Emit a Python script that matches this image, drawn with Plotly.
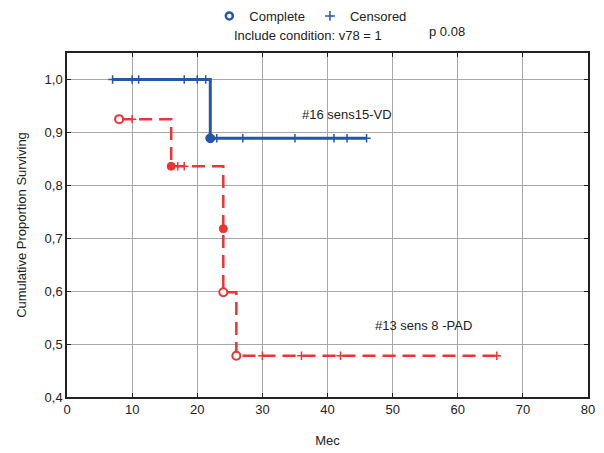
import plotly.graph_objects as go

# ---- data ----
blue_step_t = [7, 22, 46]
blue_step_s = [1.0, 0.889, 0.889]
blue_cens_t = [7, 10, 11, 18, 20, 21.3, 23, 27, 35, 41, 43, 46]
blue_cens_s = [1.0, 1.0, 1.0, 1.0, 1.0, 1.0, 0.889, 0.889, 0.889, 0.889, 0.889, 0.889]
blue_event_t = [22]
blue_event_s = [0.889]

red_step_t = [8, 16, 24, 24, 26, 66]
red_step_s = [0.925, 0.836, 0.718, 0.598, 0.478, 0.478]
red_cens_t = [10, 17, 18, 30, 36, 42, 66]
red_cens_s = [0.925, 0.836, 0.836, 0.478, 0.478, 0.478, 0.478]
red_event_filled_t = [16, 24]
red_event_filled_s = [0.836, 0.718]
red_event_open_t = [8, 24, 26]
red_event_open_s = [0.925, 0.598, 0.478]

x_ticks = [0, 10, 20, 30, 40, 50, 60, 70, 80]
y_ticks = [0.4, 0.5, 0.6, 0.7, 0.8, 0.9, 1.0]
y_tick_text = ["0,4", "0,5", "0,6", "0,7", "0,8", "0,9", "1,0"]

BLUE = "#2457a8"
RED = "#f03232"
FONT = "Liberation Sans, Arial, sans-serif"
TXT = "#222222"

fig = go.Figure()

# step lines
fig.add_trace(go.Scatter(x=blue_step_t, y=blue_step_s, mode="lines", line=dict(shape="hv", color=BLUE, width=3),
                         showlegend=False, hoverinfo="skip"))
fig.add_trace(go.Scatter(x=red_step_t, y=red_step_s, mode="lines",
                         line=dict(shape="hv", color=RED, width=2.5, dash="13px,7px"),
                         showlegend=False, hoverinfo="skip"))
# censored
fig.add_trace(go.Scatter(x=blue_cens_t, y=blue_cens_s, mode="markers",
                         marker=dict(symbol="cross-thin", size=6, line=dict(color=BLUE, width=1.5)),
                         showlegend=False))
fig.add_trace(go.Scatter(x=red_cens_t, y=red_cens_s, mode="markers",
                         marker=dict(symbol="cross-thin", size=6, line=dict(color=RED, width=1.5)),
                         showlegend=False))
# complete events
fig.add_trace(go.Scatter(x=blue_event_t, y=blue_event_s, mode="markers",
                         marker=dict(symbol="circle", size=9, color=BLUE, line=dict(color=BLUE, width=1)),
                         showlegend=False))
fig.add_trace(go.Scatter(x=red_event_filled_t, y=red_event_filled_s, mode="markers",
                         marker=dict(symbol="circle", size=8, color=RED, line=dict(color=RED, width=1)),
                         showlegend=False))
fig.add_trace(go.Scatter(x=red_event_open_t, y=red_event_open_s, mode="markers",
                         marker=dict(symbol="circle", size=8, color="white", line=dict(color=RED, width=2)),
                         showlegend=False))

# legend dummies
fig.add_trace(go.Scatter(x=[None], y=[None], mode="markers", name="Complete",
                         marker=dict(symbol="circle-open", size=7, color=BLUE, line=dict(color=BLUE, width=2.5))))
fig.add_trace(go.Scatter(x=[None], y=[None], mode="markers", name="Censored",
                         marker=dict(symbol="cross-thin", size=7, line=dict(color=BLUE, width=1.5))))

fig.add_annotation(x=35.8, y=0.934, xanchor="left", yanchor="middle", text="#16 sens15-VD",
                   showarrow=False, font=dict(size=13, color=TXT))
fig.add_annotation(x=47, y=0.535, xanchor="left", yanchor="middle", text="#13 sens 8 -PAD",
                   showarrow=False, font=dict(size=13, color=TXT))
fig.add_annotation(xref="paper", yref="paper", x=0.463, y=1.0, yanchor="middle", xanchor="center",
                   yshift=18, text="Include condition: v78 = 1", showarrow=False, font=dict(size=13, color=TXT))
fig.add_annotation(xref="paper", yref="paper", x=0.691, y=1.0, yanchor="middle", xanchor="left",
                   yshift=22, text="p 0.08", showarrow=False, font=dict(size=13, color=TXT))

# page body has an 8px margin, so the figure is sized/offset to compensate
fig.update_layout(
    width=596, height=445,
    margin=dict(l=59, r=16, t=45, b=56, autoexpand=False),
    paper_bgcolor="white", plot_bgcolor="white",
    font=dict(family=FONT, size=13, color=TXT),
    legend=dict(orientation="h", x=0.468, xanchor="center", y=1 + 37 / 344, yanchor="middle",
                font=dict(size=13), bgcolor="rgba(0,0,0,0)"),
)
fig.update_xaxes(range=[0, 80], tickvals=x_ticks, showgrid=True, gridcolor="#a8a8a8", gridwidth=1,
                 showline=True, linecolor=TXT, linewidth=1.5, mirror="ticks", ticks="inside",
                 ticklen=4, tickcolor=TXT, zeroline=False, automargin=False,
                 title=dict(text="Mec", font=dict(size=13), standoff=20),
                 tickfont=dict(size=13))
fig.update_yaxes(range=[0.4, 1.05], tickvals=y_ticks, ticktext=y_tick_text, showgrid=True,
                 gridcolor="#a8a8a8", gridwidth=1,
                 showline=True, linecolor=TXT, linewidth=1.5, mirror="ticks", ticks="inside",
                 ticklen=4, tickcolor=TXT, zeroline=False, automargin=False,
                 title=dict(text="Cumulative Proportion Surviving", font=dict(size=13), standoff=15),
                 tickfont=dict(size=13))

fig.write_html("out.html")
